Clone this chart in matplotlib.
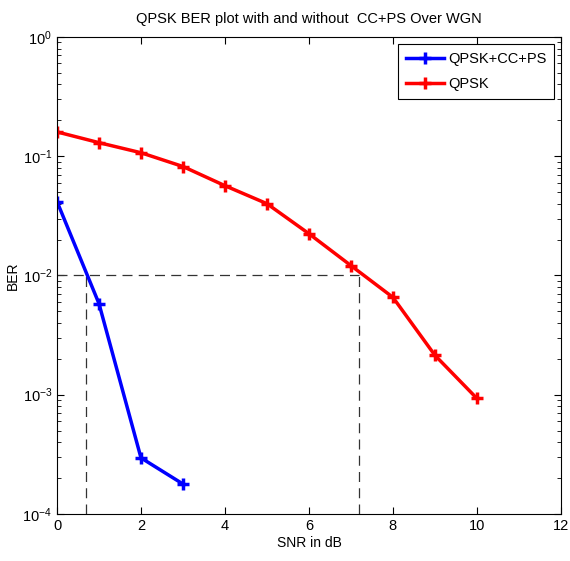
import numpy as np
import matplotlib.pyplot as plt

plt.rcParams['font.family'] = ['Liberation Sans', 'DejaVu Sans']

# Data
snr_cc = [0, 1, 2, 3]
ber_cc = [0.0417, 0.0058, 2.95e-4, 1.78e-4]
snr_qpsk = [0, 1, 2, 3, 4, 5, 6, 7, 8, 9, 10]
ber_qpsk = [0.16, 0.13, 0.107, 0.082, 0.0566, 0.040, 0.0224, 0.0121, 0.00655, 0.00214, 0.00093]

# reference lines at BER = 1e-2
ber_ref = 1e-2
snr_ref_cc = 0.7
snr_ref_qpsk = 7.2

fig = plt.figure(figsize=(5.7, 5.61), dpi=100)
ax = fig.add_axes([0.1, 0.084, 0.884, 0.85])

ax.plot([0, snr_ref_qpsk], [ber_ref, ber_ref], color="#333333", linestyle=(0, (8, 5)), linewidth=0.9)
ax.plot([snr_ref_cc, snr_ref_cc], [1e-4, ber_ref], color="#333333", linestyle=(0, (8, 5)), linewidth=0.9)
ax.plot([snr_ref_qpsk, snr_ref_qpsk], [1e-4, ber_ref], color="#333333", linestyle=(0, (8, 5)), linewidth=0.9)

ax.semilogy(snr_cc, ber_cc, color="blue", linewidth=2.5, marker="+", markersize=8, markeredgewidth=2.5, label="QPSK+CC+PS")
ax.semilogy(snr_qpsk, ber_qpsk, color="red", linewidth=2.5, marker="+", markersize=8, markeredgewidth=2.5, label="QPSK")

ax.set_xlim(0, 12)
ax.set_ylim(1e-4, 1)
ax.set_xticks(range(0, 13, 2))
ax.tick_params(which="both", direction="in", top=True, right=True, labelsize=10.5)
ax.tick_params(which="major", length=5)
ax.tick_params(which="minor", length=3)

ax.set_title("QPSK BER plot with and without  CC+PS Over WGN", fontsize=10.5, pad=10)
ax.set_xlabel("SNR in dB", fontsize=10, labelpad=2)
ax.set_ylabel("BER", fontsize=10, labelpad=2)

leg = ax.legend(loc="upper right", fontsize=10.5, fancybox=False, framealpha=1, edgecolor="black",
                handlelength=2.6, borderaxespad=0.5, handletextpad=0.3, labelspacing=0.8,
                borderpad=0.5)
leg.get_frame().set_linewidth(0.8)

plt.savefig("out.png")
